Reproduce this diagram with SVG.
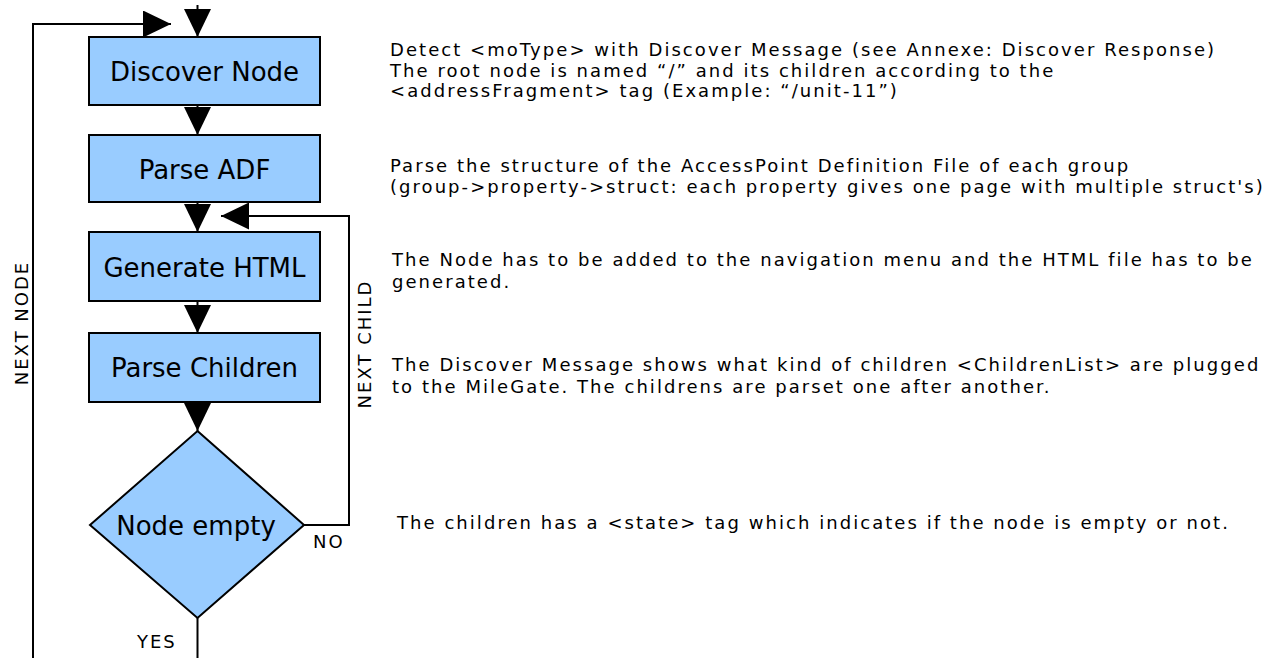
<svg xmlns="http://www.w3.org/2000/svg" width="1287" height="658" viewBox="0 0 1287 658">
<style>
.box{fill:#99ccff;stroke:#000;stroke-width:2}
.lbl{font-family:"DejaVu Sans",Verdana,sans-serif;font-size:26px;fill:#000;text-anchor:middle}
.desc{font-family:"DejaVu Sans",Verdana,sans-serif;font-size:18px;letter-spacing:2.05px;fill:#000}
.small{font-family:"DejaVu Sans",Verdana,sans-serif;font-size:18px;letter-spacing:2px;fill:#000}
.conn{fill:none;stroke:#000;stroke-width:2}
</style>
<defs>
<marker id="arr" viewBox="0 0 28 27" refX="28" refY="13.5" markerWidth="28" markerHeight="27" markerUnits="userSpaceOnUse" orient="auto">
<path d="M0,0 L28,13.5 L0,27 Z" fill="#000"/>
</marker>
</defs>
<rect width="1287" height="658" fill="#fff"/>
<g id="connectors">
<path class="conn" d="M197.5,5 V37" marker-end="url(#arr)"/>
<path class="conn" d="M197.5,105 V135" marker-end="url(#arr)"/>
<path class="conn" d="M197.5,202 V232" marker-end="url(#arr)"/>
<path class="conn" d="M197.5,301 V333" marker-end="url(#arr)"/>
<path class="conn" d="M197.5,402 V431" marker-end="url(#arr)"/>
<path class="conn" d="M304,525 H349 V216 H221" marker-end="url(#arr)"/>
<path class="conn" d="M197.5,618 V690 H33 V24 H171" marker-end="url(#arr)"/>
<text class="small" x="313" y="548">NO</text>
<text class="small" x="137" y="648">YES</text>
<text class="small" transform="translate(28,323) rotate(-90)" text-anchor="middle">NEXT NODE</text>
<text class="small" transform="translate(371,344) rotate(-90)" text-anchor="middle">NEXT CHILD</text>
</g>
<g id="discover-node">
<rect class="box" x="89" y="37" width="231" height="68"/>
<text class="lbl" x="204.5" y="81">Discover Node</text>
</g>
<g id="parse-adf">
<rect class="box" x="89" y="135" width="231" height="67"/>
<text class="lbl" x="204.5" y="179">Parse ADF</text>
</g>
<g id="generate-html">
<rect class="box" x="89" y="232" width="231" height="69"/>
<text class="lbl" x="204.5" y="277">Generate HTML</text>
</g>
<g id="parse-children">
<rect class="box" x="89" y="333" width="231" height="69"/>
<text class="lbl" x="204.5" y="377">Parse Children</text>
</g>
<g id="node-empty">
<polygon class="box" points="197.5,431 304,525 197.5,618 90,525"/>
<text class="lbl" x="196" y="535">Node empty</text>
</g>
<g id="descriptions">
<text class="desc" x="390" y="56">Detect &lt;moType&gt; with Discover Message (see Annexe: Discover Response)</text>
<text class="desc" x="390" y="77">The root node is named “/” and its children according to the</text>
<text class="desc" x="390" y="97">&lt;addressFragment&gt; tag (Example: “/unit-11”)</text>
<text class="desc" x="390" y="172">Parse the structure of the AccessPoint Definition File of each group</text>
<text class="desc" x="390" y="193">(group-&gt;property-&gt;struct: each property gives one page with multiple struct's)</text>
<text class="desc" x="392" y="266">The Node has to be added to the navigation menu and the HTML file has to be</text>
<text class="desc" x="392" y="288">generated.</text>
<text class="desc" x="392" y="371">The Discover Message shows what kind of children &lt;ChildrenList&gt; are plugged</text>
<text class="desc" x="392" y="393">to the MileGate. The childrens are parset one after another.</text>
<text class="desc" x="397" y="529">The children has a &lt;state&gt; tag which indicates if the node is empty or not.</text>
</g>
</svg>
